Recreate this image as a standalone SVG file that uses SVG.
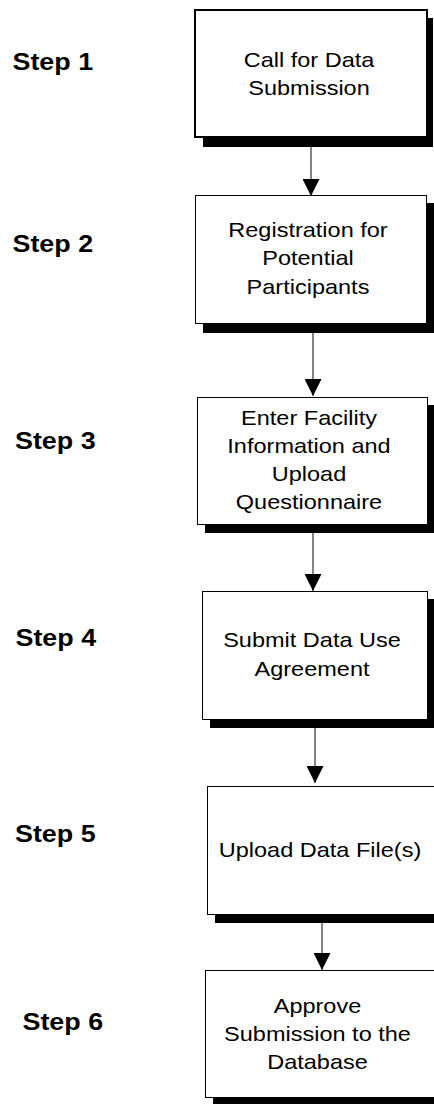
<svg xmlns="http://www.w3.org/2000/svg" width="434" height="1104" viewBox="0 0 434 1104">
<style>
.box{fill:#fff;stroke:#000;stroke-width:1}
.box1{fill:#fff;stroke:#000;stroke-width:2}
.sh{fill:#000}
.t{font-family:"Liberation Sans",Arial,sans-serif;font-size:21px;fill:#000;text-anchor:middle}
.s{font-family:"Liberation Sans",Arial,sans-serif;font-size:24px;font-weight:bold;fill:#000}
.c{stroke:#333;stroke-width:1.2;fill:none;marker-end:url(#ah)}
</style>
<defs>
<marker id="ah" markerUnits="userSpaceOnUse" viewBox="0 0 17 17" refX="17" refY="8.5" markerWidth="17" markerHeight="17" orient="auto">
<path d="M0,0 L17,8.5 L0,17 Z" fill="#000"/>
</marker>
</defs>
<rect width="434" height="1104" fill="#fff"/>
<g id="labels">
<text class="s" transform="translate(12.5,70) scale(1.12,1)">Step 1</text>
<text class="s" transform="translate(12.5,252) scale(1.12,1)">Step 2</text>
<text class="s" transform="translate(15,449) scale(1.12,1)">Step 3</text>
<text class="s" transform="translate(15.5,646) scale(1.12,1)">Step 4</text>
<text class="s" transform="translate(15,842) scale(1.12,1)">Step 5</text>
<text class="s" transform="translate(22.5,1030) scale(1.12,1)">Step 6</text>
</g>
<g id="connectors">
<line class="c" x1="311" y1="147" x2="311" y2="196"/>
<line class="c" x1="313" y1="333" x2="313" y2="396"/>
<line class="c" x1="313" y1="533" x2="313" y2="591"/>
<line class="c" x1="315" y1="728" x2="315" y2="783"/>
<line class="c" x1="322" y1="923" x2="322" y2="970"/>
</g>
<g id="node1">
<rect class="sh" x="203" y="18" width="230" height="129"/>
<rect class="box1" x="195" y="10" width="232" height="127"/>
<text class="t" transform="translate(309,67) scale(1.12,1)"><tspan x="0" y="0">Call for Data</tspan><tspan x="0" y="28">Submission</tspan></text>
</g>
<g id="node2">
<rect class="sh" x="203" y="203" width="231" height="130"/>
<rect class="box" x="195.5" y="195.5" width="231" height="128"/>
<text class="t" transform="translate(308,237) scale(1.12,1)"><tspan x="0" y="0">Registration for</tspan><tspan x="0" y="28.5">Potential</tspan><tspan x="0" y="57">Participants</tspan></text>
</g>
<g id="node3">
<rect class="sh" x="205" y="405" width="229" height="128"/>
<rect class="box" x="197.5" y="397.5" width="230" height="127"/>
<text class="t" transform="translate(309,425) scale(1.12,1)"><tspan x="0" y="0">Enter Facility</tspan><tspan x="0" y="28">Information and</tspan><tspan x="0" y="56.5">Upload</tspan><tspan x="0" y="84.5">Questionnaire</tspan></text>
</g>
<g id="node4">
<rect class="sh" x="210" y="599" width="224" height="129"/>
<rect class="box" x="202.5" y="591.5" width="225" height="128"/>
<text class="t" transform="translate(312,647) scale(1.12,1)"><tspan x="0" y="0">Submit Data Use</tspan><tspan x="0" y="29">Agreement</tspan></text>
</g>
<g id="node5">
<rect class="sh" x="215" y="794" width="230" height="129"/>
<rect class="box" x="207.5" y="786.5" width="240" height="128"/>
<text class="t" transform="translate(320,857) scale(1.12,1)">Upload Data File(s)</text>
</g>
<g id="node6">
<rect class="sh" x="213" y="978" width="230" height="130"/>
<rect class="box" x="205.5" y="970.5" width="240" height="127"/>
<text class="t" transform="translate(317.5,1013) scale(1.12,1)"><tspan x="0" y="0">Approve</tspan><tspan x="0" y="28.5">Submission to the</tspan><tspan x="0" y="56">Database</tspan></text>
</g>
</svg>
